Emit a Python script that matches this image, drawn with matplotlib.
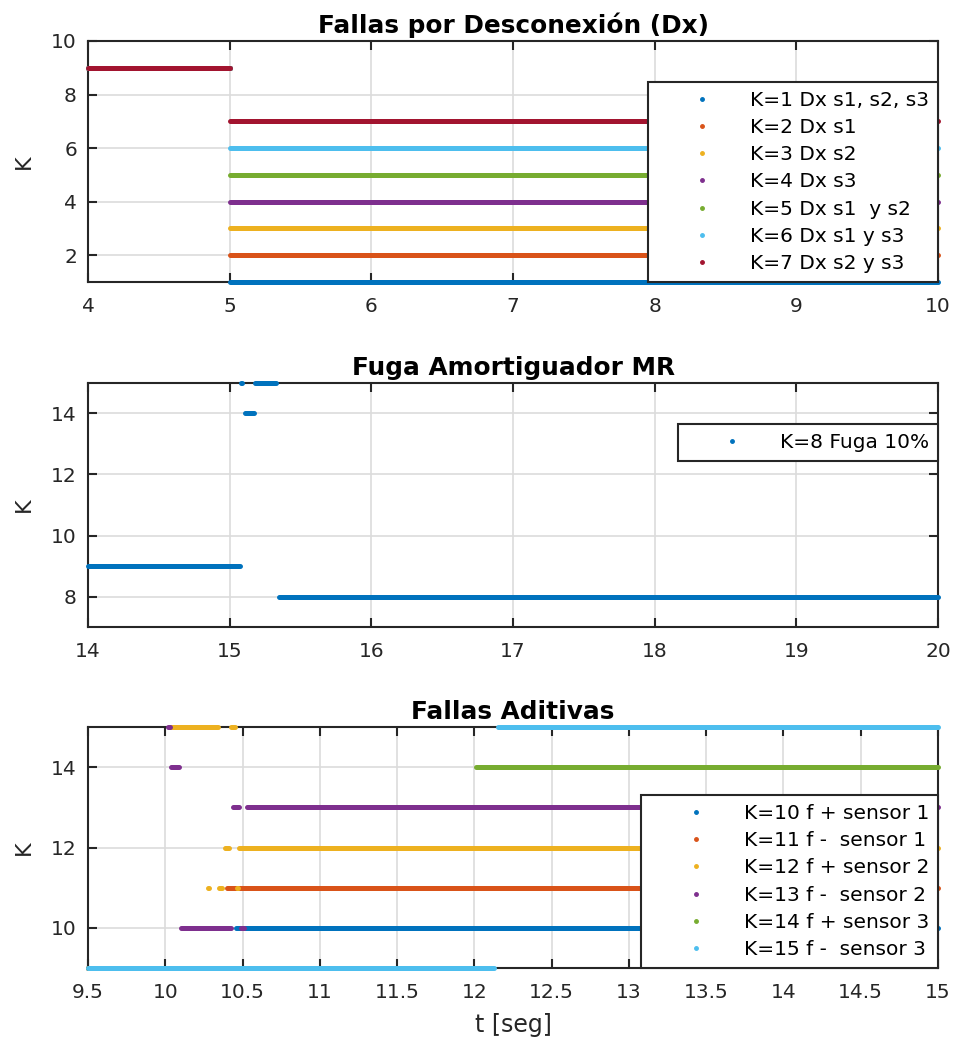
import matplotlib
matplotlib.use("Agg")
import matplotlib.pyplot as plt
from matplotlib.lines import Line2D

plt.rcParams['font.family'] = ['DejaVu Sans']

# MATLAB default colour order
C_BLUE = '#0072BD'
C_RED = '#D95319'
C_YELLOW = '#EDB120'
C_PURPLE = '#7E2F8E'
C_GREEN = '#77AC30'
C_CYAN = '#4DBEEE'
C_WINE = '#A2142F'

# ---------------- Disconnection faults (Dx) ----------------
dx_labels = ['K=1 Dx s1, s2, s3', 'K=2 Dx s1', 'K=3 Dx s2', 'K=4 Dx s3',
             'K=5 Dx s1  y s2', 'K=6 Dx s1 y s3', 'K=7 Dx s2 y s3']
dx_classes = [1, 2, 3, 4, 5, 6, 7]
dx_colors = [C_BLUE, C_RED, C_YELLOW, C_PURPLE, C_GREEN, C_CYAN, C_WINE]
dx_t_start = 4.0
dx_t_fault = 5.0
dx_t_end = 10.0
dx_nofault_class = 9

# ---------------- MR damper leak ----------------
leak_label = 'K=8 Fuga 10%'
# (t_start, t_end, K)
leak_segments = [(14.0, 15.075, 9), (15.082, 15.09, 15), (15.11, 15.17, 14),
                 (15.18, 15.33, 15), (15.35, 20.0, 8)]

# ---------------- Additive faults ----------------
add_labels = ['K=10 f + sensor 1', 'K=11 f -  sensor 1', 'K=12 f + sensor 2',
              'K=13 f -  sensor 2', 'K=14 f + sensor 3', 'K=15 f -  sensor 3']
add_colors = [C_BLUE, C_RED, C_YELLOW, C_PURPLE, C_GREEN, C_CYAN]
k10_segments = [(9.5, 10.43, 9), (10.455, 15.0, 10)]
k11_segments = [(9.5, 10.38, 9), (10.40, 15.0, 11)]
k12_segments = [(9.5, 10.0, 9), (10.03, 10.34, 15), (10.278, 10.284, 11),
                (10.35, 10.37, 11), (10.385, 10.41, 12), (10.425, 10.45, 15),
                (10.462, 10.468, 11), (10.48, 15.0, 12)]
k13_segments = [(9.5, 10.0, 9), (10.015, 10.03, 15), (10.04, 10.09, 14),
                (10.10, 10.425, 10), (10.44, 10.48, 13), (10.49, 10.51, 10),
                (10.53, 15.0, 13)]
k14_segments = [(9.5, 11.98, 9), (12.01, 15.0, 14)]
k15_segments = [(9.5, 12.13, 9), (12.15, 15.0, 15)]
add_segments = [k10_segments, k11_segments, k12_segments,
                k13_segments, k14_segments, k15_segments]

TXT = '#262626'
LW = 3.6

fig = plt.figure(figsize=(9.55, 10.38), dpi=100)
W, H = 955.0, 1038.0


def make_axes(top_px, bottom_px):
    return fig.add_axes([88 / W, 1 - bottom_px / H, 850 / W, (bottom_px - top_px) / H])


def style_axes(ax, title):
    ax.set_title(title, fontsize=17.8, fontweight='bold', color='black', pad=6)
    ax.grid(True, color='#dcdcdc', linewidth=1.2)
    ax.set_axisbelow(True)
    for s in ax.spines.values():
        s.set_color(TXT)
        s.set_linewidth(1.5)
    ax.tick_params(direction='in', length=6.5, width=1.5, color=TXT,
                   labelsize=14.5, labelcolor=TXT, top=True, right=True)
    ax.tick_params(axis='x', pad=11)
    ax.tick_params(axis='y', pad=8)
    ax.set_ylabel('K', fontsize=16, color=TXT)
    ax.yaxis.set_label_coords(-0.064, 0.5)


def draw_segments(ax, segments, color):
    for t0, t1, k in segments:
        ax.plot([t0, t1], [k, k], color=color, linewidth=LW,
                solid_capstyle='round', clip_on=False, zorder=3)


def add_legend(ax, labels, colors, **kw):
    handles = [Line2D([], [], linestyle='none', marker='.', markersize=5,
                      color=c) for c in colors]
    leg = ax.legend(handles, labels, fontsize=14.5, frameon=True, fancybox=False,
                    framealpha=1, edgecolor=TXT, borderaxespad=0,
                    handlelength=4.5, handletextpad=0.14, borderpad=0.44,
                    labelspacing=0.41, **kw)
    leg.get_frame().set_linewidth(1.5)
    leg.set_zorder(5)
    for t in leg.get_texts():
        t.set_color('black')
    return leg


# Panel 1
ax1 = make_axes(41, 282)
for k, c in zip(dx_classes, dx_colors):
    draw_segments(ax1, [(dx_t_start, dx_t_fault, dx_nofault_class),
                        (dx_t_fault, dx_t_end, k)], c)
ax1.set_xlim(4, 10)
ax1.set_ylim(1, 10)
ax1.set_xticks([4, 5, 6, 7, 8, 9, 10])
ax1.set_yticks([2, 4, 6, 8, 10])
style_axes(ax1, 'Fallas por Desconexión (Dx)')
add_legend(ax1, dx_labels, dx_colors, loc='lower right', bbox_to_anchor=(1, 0))

# Panel 2
ax2 = make_axes(383, 627)
draw_segments(ax2, leak_segments, C_BLUE)
ax2.set_xlim(14, 20)
ax2.set_ylim(7, 15)
ax2.set_xticks([14, 15, 16, 17, 18, 19, 20])
ax2.set_yticks([8, 10, 12, 14])
style_axes(ax2, 'Fuga Amortiguador MR')
add_legend(ax2, [leak_label], [C_BLUE], loc='upper right',
           bbox_to_anchor=(1, 1 - (424 - 383) / 244))

# Panel 3
ax3 = make_axes(727, 968)
for segs, c in zip(add_segments, add_colors):
    draw_segments(ax3, segs, c)
ax3.set_xlim(9.5, 15)
ax3.set_ylim(9, 15)
xt = [9.5, 10, 10.5, 11, 11.5, 12, 12.5, 13, 13.5, 14, 14.5, 15]
ax3.set_xticks(xt)
ax3.set_xticklabels([('%g' % v) for v in xt])
ax3.set_yticks([10, 12, 14])
style_axes(ax3, 'Fallas Aditivas')
ax3.set_xlabel('t [seg]', fontsize=17, color=TXT)
ax3.xaxis.set_label_coords(0.5, -(1025 - 968) / 241)
ax3.xaxis.label.set_va('center')
add_legend(ax3, add_labels, add_colors, loc='lower right', bbox_to_anchor=(1, 0))

fig.savefig('out.png', dpi=100, facecolor='white')
